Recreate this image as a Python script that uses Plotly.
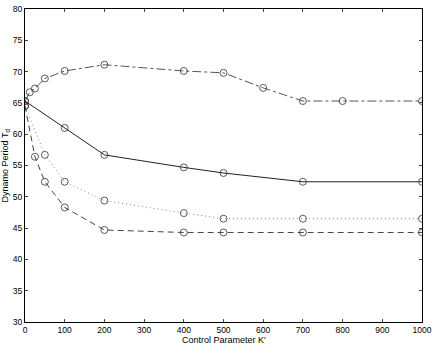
import plotly.graph_objects as go

# K' values and dynamo period for each case
k_dashdot = [0, 12, 25, 50, 100, 200, 400, 500, 600, 700, 800, 1000]
t_dashdot = [65.3, 66.7, 67.3, 68.9, 70.1, 71.1, 70.1, 69.8, 67.4, 65.3, 65.3, 65.3]

k_solid = [0, 100, 200, 400, 500, 700, 1000]
t_solid = [65.3, 61.0, 56.7, 54.7, 53.8, 52.4, 52.4]

k_dotted = [0, 50, 100, 200, 400, 500, 700, 1000]
t_dotted = [64.5, 56.7, 52.4, 49.4, 47.4, 46.5, 46.5, 46.5]

k_dashed = [0, 25, 50, 100, 200, 400, 500, 700, 1000]
t_dashed = [64.5, 56.4, 52.4, 48.3, 44.7, 44.3, 44.3, 44.3, 44.3]

series = [
    (k_dashdot, t_dashdot, "dashdot", "#555555"),
    (k_solid, t_solid, "solid", "#222222"),
    (k_dotted, t_dotted, "1px,3px", "#888888"),
    (k_dashed, t_dashed, "6px,4px", "#444444"),
]

fig = go.Figure()

for xs, ys, dash, col in series:
    fig.add_trace(go.Scatter(
        x=xs, y=ys,
        mode="lines+markers",
        line=dict(color=col, width=1, dash=dash),
        marker=dict(symbol="circle-open", size=7, color="#333333",
                    line=dict(width=0.8, color="#333333")),
        showlegend=False,
    ))

axis_font = dict(family="Liberation Sans, Arial, sans-serif", size=9, color="black")
tick_font = dict(family="Liberation Sans, Arial, sans-serif", size=8.5, color="black")

fig.update_layout(
    width=436, height=345,
    margin=dict(l=25, r=14, t=9, b=23, autoexpand=False),
    plot_bgcolor="white",
    paper_bgcolor="white",
    font=axis_font,
    xaxis=dict(
        range=[0, 1000], dtick=100, ticks="inside", ticklen=3,
        showgrid=False, zeroline=False, showline=True, linecolor="black",
        linewidth=1, mirror="ticks", tickfont=tick_font, automargin=False,
    ),
    yaxis=dict(
        range=[30, 80], dtick=5, ticks="inside", ticklen=3,
        showgrid=False, zeroline=False, showline=True, linecolor="black",
        linewidth=1, mirror="ticks", tickfont=tick_font, automargin=False,
    ),
    annotations=[
        dict(text="Control Parameter K\u2032", xref="paper", yref="paper",
             x=0.5, y=-0.056, xanchor="center", yanchor="middle",
             showarrow=False, font=axis_font),
        dict(text="Dynamo Period T<sub>d</sub>", xref="paper", yref="paper",
             x=-0.048, y=0.5, xanchor="center", yanchor="middle", textangle=-90,
             showarrow=False, font=axis_font),
    ],
)

# drop the default page margin so the figure sits at the window corner
fig.write_html("out.html", config={"displayModeBar": False},
               post_script="document.body.style.margin='0';")
